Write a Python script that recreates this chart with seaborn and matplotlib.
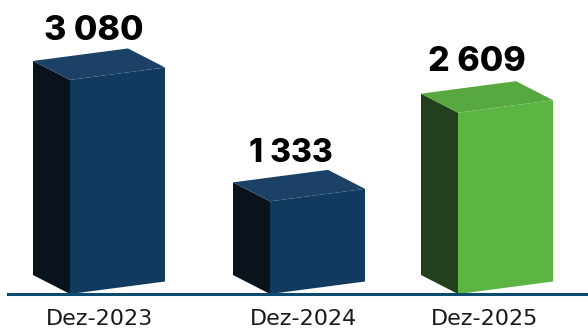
import pandas as pd
import seaborn as sns
from matplotlib import pyplot as plt
from matplotlib.patches import Polygon
from matplotlib.transforms import Affine2D

sns.set_style("white")

dates = ["Dez-2023", "Dez-2024", "Dez-2025"]
values = [3080, 1333, 2609]
value_labels = ["3 080", "1 333", "2 609"]

# layout, all in pixels of the 588x329 picture
bar_x = [117.5, 317.5, 505.5]
tick_x = [100, 303, 485]
label_x = [94, 290.5, 476.5]
label_sizes = [24.5, 23, 24.5]
label_gap = [17, 16, 19]
bar_px = 95
depth_x = 37
depth_y = 19
rise = 12.5
px_per_value = 0.0695

front_colors = ["#113A5F", "#113A5F", "#5CB543"]
top_colors = ["#1C4167", "#1C4167", "#57A83F"]
side_colors = ["#0A121C", "#0A121C", "#23401D"]
line_color = "#0C4A70"

df = pd.DataFrame({"date": dates, "value": values, "x": bar_x})

fig = plt.figure(figsize=(5.88, 3.29), dpi=100)
ax = fig.add_axes([0, 35 / 329, 1, 294 / 329])

sns.barplot(
    data=df,
    x="x",
    y="value",
    hue="date",
    palette=front_colors,
    width=bar_px / 188,
    dodge=False,
    native_scale=True,
    legend=False,
    saturation=1,
    ax=ax
)

ax.set_xlim(0, 588)
ax.set_ylim(0, 294 / px_per_value)

dy = depth_y / px_per_value
rise_y = rise / px_per_value
slope = rise_y / bar_px

bars = [p for p in ax.patches if p.get_height() > 0]
bars.sort(key=lambda p: p.get_x())

for i, bar in enumerate(bars):
    x0 = bar.get_x()
    x1 = x0 + bar.get_width()
    h = bar.get_height()

    # the front face leans upwards to the right
    skew = Affine2D.from_values(1, slope, 0, 1, 0, -slope * x0)
    bar.set_transform(skew + ax.transData)
    bar.set_zorder(3)
    bar.set_linewidth(0)

    side = [(x0, 0), (x0, h), (x0 - depth_x, h + dy), (x0 - depth_x, dy)]
    top = [
        (x0, h),
        (x1, h + rise_y),
        (x1 - depth_x, h + rise_y + dy),
        (x0 - depth_x, h + dy)
    ]
    ax.add_patch(Polygon(side, closed=True, color=side_colors[i], lw=0, zorder=2))
    ax.add_patch(Polygon(top, closed=True, color=top_colors[i], lw=0, zorder=2))

    ax.text(
        label_x[i],
        h + rise_y + dy + label_gap[i] / px_per_value,
        value_labels[i],
        ha="center",
        va="center",
        family="Inter",
        fontsize=label_sizes[i],
        fontweight="heavy",
        color="black"
    )

ax.set_xlabel("")
ax.set_ylabel("")
ax.set_yticks([])
ax.set_xticks(tick_x, dates)
ax.tick_params(axis="x", length=0, pad=11, labelsize=16, labelcolor="#1A1A1A")

for name in ["top", "left", "right"]:
    ax.spines[name].set_visible(False)
ax.spines["bottom"].set_bounds(8, 588)
ax.spines["bottom"].set_color(line_color)
ax.spines["bottom"].set_linewidth(2.2)
ax.spines["bottom"].set_zorder(4)
ax.patch.set_alpha(0)

plt.savefig("out.png", dpi=100)
plt.close()
